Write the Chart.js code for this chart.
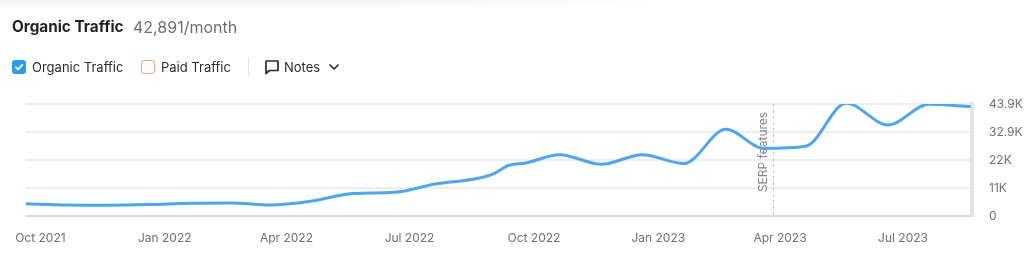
<!DOCTYPE html>
<html>
<head>
<meta charset="utf-8">
<script src="https://cdn.jsdelivr.net/npm/chart.js@4/dist/chart.umd.min.js"></script>
<style>
  html, body { margin: 0; padding: 0; background: #fff; }
  body { width: 1024px; height: 253px; position: relative; overflow: hidden; font-family: Inter, "Noto Sans", sans-serif; }
  #shade { position: absolute; left: 0; top: 0; width: 700px; height: 9px;
           background: linear-gradient(to bottom, rgba(0,0,0,0.06), rgba(0,0,0,0)); 
           -webkit-mask-image: linear-gradient(to right, #000 0%, #000 40%, transparent 100%);
           mask-image: linear-gradient(to right, #000 0%, #000 40%, transparent 100%); }
  #chartWrap { position: absolute; left: 0; top: 0; width: 1024px; height: 253px; }
  .abs { position: absolute; white-space: nowrap; }
  #title { left: 12px; top: 17px; font-size: 15.3px; font-weight: 700; color: #1f1f24; }
  #sub { left: 133px; top: 17px; font-size: 16px; color: #6c6e79; }
  .cb { position: absolute; width: 14px; height: 14px; border-radius: 3px; box-sizing: border-box; }
  #cb1 { left: 12px; top: 60px; background: #2d9cf0; }
  #cb2 { left: 141px; top: 60px; border: 1.5px solid #f2a676; background: #fff; }
  .lbl { font-size: 13px; color: #2b2b33; top: 59px; }
  #sep { left: 248px; top: 57px; width: 1px; height: 20px; background: #e2e3e6; }
</style>
</head>
<body>
<div id="shade"></div>
<div id="chartWrap"><canvas id="c" width="1024" height="253"></canvas></div>
<div class="abs" id="title">Organic Traffic</div>
<div class="abs" id="sub">42,891/month</div>
<div class="cb" id="cb1">
  <svg width="14" height="14" viewBox="0 0 14 14" style="position:absolute;left:0;top:0"><path d="M3.8 7.2 L6 9.3 L10.3 4.9" fill="none" stroke="#fff" stroke-width="1.8" stroke-linecap="round" stroke-linejoin="round"/></svg>
</div>
<div class="abs lbl" style="left:32px">Organic Traffic</div>
<div class="cb" id="cb2"></div>
<div class="abs lbl" style="left:161px">Paid Traffic</div>
<div class="abs" id="sep"></div>
<svg class="abs" style="left:264px;top:59px" width="16" height="16" viewBox="0 0 16 16">
  <path d="M2 2 H14 V11.5 H5.5 L2 14.5 Z" fill="none" stroke="#2b2b33" stroke-width="1.7" stroke-linejoin="round"/>
</svg>
<div class="abs lbl" style="left:284px">Notes</div>
<svg class="abs" style="left:328px;top:62px" width="12" height="10" viewBox="0 0 12 10">
  <path d="M2 3 L6 7 L10 3" fill="none" stroke="#2b2b33" stroke-width="1.7" stroke-linecap="round" stroke-linejoin="round"/>
</svg>

<script>
// ---- data (organic traffic estimates) ----
const dates = [
  '2021-09-20','2021-10-20','2021-11-20','2021-12-20',
  '2022-01-20','2022-02-20','2022-03-20','2022-04-20','2022-05-20','2022-06-20',
  '2022-07-20','2022-08-20','2022-09-01','2022-09-12','2022-09-25','2022-10-20',
  '2022-11-20','2022-12-20',
  '2023-01-20','2023-02-20','2023-03-20','2023-04-20','2023-05-20','2023-06-20',
  '2023-07-20','2023-08-20'
];
const organicTraffic = [
  4820, 4310, 4230, 4470,
  4980, 5100, 4310, 5880, 8820, 9290,
  12540, 14700, 16500, 19800, 20800, 24030,
  20270, 24030,
  20580, 33980, 26460, 27300, 44180, 35670,
  43790, 42891
];
const xTickDates  = ['2021-10-01','2022-01-01','2022-04-01','2022-07-01','2022-10-01','2023-01-01','2023-04-01','2023-07-01'];
const xTickLabels = ['Oct 2021','Jan 2022','Apr 2022','Jul 2022','Oct 2022','Jan 2023','Apr 2023','Jul 2023'];
const yTickValues = [0, 10975, 21950, 32925, 43900];
const yTickLabels = ['0','11K','22K','32.9K','43.9K'];
const xRange = ['2021-09-20','2023-08-21'];
const noteDate = '2023-03-27';
const noteLabel = 'SERP features';

function toDay(s) {
  const [y, m, d] = s.split('-').map(Number);
  return Date.UTC(y, m - 1, d) / 86400000;
}

const points = dates.map((d, i) => ({ x: toDay(d), y: organicTraffic[i] }));

const noteLine = {
  id: 'noteLine',
  beforeDatasetsDraw(chart) {
    const { ctx, chartArea, scales } = chart;
    const x = Math.round(scales.x.getPixelForValue(toDay(noteDate))) + 0.5;
    ctx.save();
    ctx.strokeStyle = '#c6c8ce';
    ctx.lineWidth = 1;
    ctx.setLineDash([3, 3]);
    ctx.beginPath();
    ctx.moveTo(x, chartArea.top);
    ctx.lineTo(x, chartArea.bottom);
    ctx.stroke();
    ctx.setLineDash([]);
    ctx.translate(x - 7, (chartArea.top + chartArea.bottom) / 2 - 8);
    ctx.rotate(-Math.PI / 2);
    ctx.fillStyle = '#83868f';
    ctx.font = '12px Inter, "Noto Sans", sans-serif';
    ctx.textAlign = 'center';
    ctx.textBaseline = 'alphabetic';
    ctx.fillText(noteLabel, 0, 0);
    ctx.restore();
  }
};

new Chart(document.getElementById('c'), {
  type: 'line',
  data: {
    datasets: [{
      data: points,
      borderColor: '#4fa6ec',
      borderWidth: 3,
      pointRadius: 0,
      fill: false,
      cubicInterpolationMode: 'monotone'
    }]
  },
  options: {
    responsive: false,
    animation: false,
    events: [],
    layout: { padding: { left: 12, top: 104, right: 0, bottom: 0 } },
    plugins: { legend: { display: false }, tooltip: { enabled: false } },
    scales: {
      x: {
        type: 'linear',
        min: toDay(xRange[0]),
        max: toDay(xRange[1]),
        grid: { display: false, drawTicks: false },
        border: { display: true, color: '#d9dbe0', width: 2 },
        afterBuildTicks(scale) { scale.ticks = xTickDates.map(d => ({ value: toDay(d) })); },
        afterFit(scale) { scale.height = 37; },
        ticks: {
          autoSkip: false, maxRotation: 0, padding: 15,
          color: '#6c6e79', font: { family: 'Inter', size: 12 },
          callback: (v, i) => xTickLabels[i]
        }
      },
      y: {
        position: 'right',
        min: 0,
        max: 43900,
        grid: { color: '#ededf0', lineWidth: 2, drawTicks: false },
        border: { display: true, color: '#e2e3e7', width: 4 },
        afterBuildTicks(scale) { scale.ticks = yTickValues.map(v => ({ value: v })); },
        afterFit(scale) { scale.width = 52; },
        ticks: {
          padding: 17,
          color: '#6c6e79', font: { family: 'Inter', size: 12 },
          callback: (v, i) => yTickLabels[i]
        }
      }
    }
  },
  plugins: [noteLine]
});
</script>
</body>
</html>
